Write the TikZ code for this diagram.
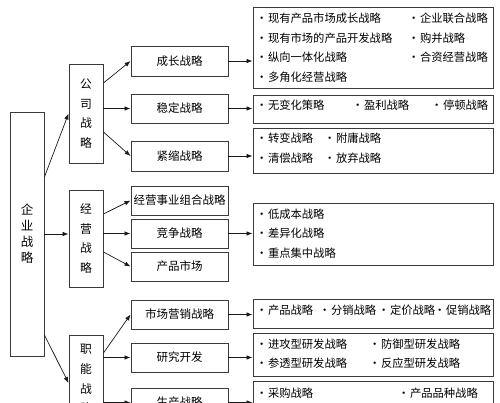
\documentclass[tikz,border=0pt]{standalone}
\usepackage{fontspec}
\setmainfont{Noto Sans CJK SC}
\usetikzlibrary{positioning,calc,arrows.meta}
\definecolor{bxline}{HTML}{3A3A3A}
\definecolor{lnline}{HTML}{1A1A1A}
\tikzset{
  box/.style={draw=bxline,line width=0.9pt,inner sep=0pt,font=\fontsize{11.5}{13}\selectfont},
  vbox/.style={box,minimum width=34pt,align=center,font=\fontsize{11.8}{19.6}\selectfont},
  midbox/.style={box,minimum width=97pt,minimum height=29pt},
  rbox/.style={box,minimum width=240pt},
  item/.style={anchor=west,inner sep=0pt,font=\fontsize{11.3}{13}\selectfont},
  arr/.style={lnline,line width=0.7pt,-{Latex[length=6pt,width=4.5pt]}},
}

\begin{document}
\begin{tikzpicture}[x=1pt,y=-1pt]
  \useasboundingbox[fill=white] (0,0) rectangle (500,403);
  \clip (0,0) rectangle (500,403);
  % ---------- root ----------
  \node[vbox,minimum height=244pt,font=\fontsize{12.5}{16}\selectfont] (root) at (27,234) {企\\业\\战\\略};
  % ---------- second level ----------
  \node[vbox,minimum height=99pt] (corp) at (86,113.5) {公\\司\\战\\略};
  \node[vbox,minimum height=97pt] (jy) at (86,238.5) {经\\营\\战\\略};
  \node[vbox,minimum height=88pt] (zn) at (86,379) {职\\能\\战\\略};
  % ---------- third level ----------
  \node[midbox,minimum height=30pt] (cz) at (179.5,61) {成长战略};
  \node[midbox] (wd) at (179.5,108.5) {稳定战略};
  \node[midbox,minimum height=30pt] (js) at (179.5,156) {紧缩战略};
  \node[midbox] (zh) at (179.5,200.5) {经营事业组合战略};
  \node[midbox] (jz) at (179.5,233.5) {竞争战略};
  \node[midbox] (cp) at (179.5,266.5) {产品市场};
  \node[midbox] (yx) at (179.5,314.5) {市场营销战略};
  \node[midbox] (yf) at (179.5,357.5) {研究开发};
  \node[midbox] (sc) at (179.5,402.5) {生产战略};
  % ---------- detail boxes ----------
  \node[rbox,minimum height=81pt] (r1) at (373,47.5) {};
  \node[rbox,minimum height=28pt] (r2) at (373,109) {};
  \node[rbox,minimum height=45pt] (r3) at (373,150.5) {};
  \node[rbox,minimum height=62pt] (r4) at (373,234) {};
  \node[rbox,minimum height=29pt] (r5) at (373,313.5) {};
  \node[rbox,minimum height=43pt] (r6) at (373,354.5) {};
  \node[rbox,minimum height=44pt] (r7) at (373,403) {};
  \foreach \xx/\yy/\txt in {%
      256/18/现有产品市场成长战略, 408/18/企业联合战略,
      256/38/现有市场的产品开发战略, 408/38/购并战略,
      256/57/纵向一体化战略, 408/57/合资经营战略,
      256/77/多角化经营战略,
      256/105/无变化策略, 352/105/盈利战略, 431/105/停顿战略,
      256/138/转变战略, 324/138/附庸战略,
      256/158/清偿战略, 324/158/放弃战略,
      256/214/低成本战略, 256/233/差异化战略, 256/253/重点集中战略,
      256/310/产品战略, 319/310/分销战略, 378/310/定价战略, 434/310/促销战略,
      256/344/进攻型研发战略, 369/344/防御型研发战略,
      256/363/参透型研发战略, 369/363/反应型研发战略,
      256/393/采购战略, 398/393/产品品种战略}{
    \node[item] at (\xx,\yy) {·\hspace{0.5pt}\txt};}
  % ---------- connectors ----------
  \draw[arr] ([yshift=57pt]root.east) -- (corp.west);
  \draw[arr] (root.east) -- (root.east -| jy.west);
  \draw[arr] ([yshift=-101pt]root.east) -- ([yshift=-4pt]zn.west);
  \draw[arr] ([yshift=30.5pt]corp.east) -- (cz.west);
  \draw[arr] (corp.east |- wd.west) -- (wd.west);
  \draw[arr] ([yshift=-18.5pt]corp.east) -- (js.west);
  \draw[arr] ([yshift=24.5pt]jy.east) -- (zh.west);
  \draw[arr] (jy.east |- jz.west) -- (jz.west);
  \draw[arr] ([yshift=-13.5pt]jy.east) -- (cp.west);
  \draw[arr] ([yshift=26pt]zn.east) -- (yx.west);
  \draw[arr] (zn.east |- yf.west) -- (yf.west);
  \draw[arr] (zn.east |- sc.west) -- (sc.west);
  \foreach \aa/\bb in {cz/r1,wd/r2,js/r3,jz/r4,yx/r5,yf/r6,sc/r7}{
    \draw[arr] (\aa.east) -- (\aa.east -| \bb.west);}
\end{tikzpicture}
\end{document}
